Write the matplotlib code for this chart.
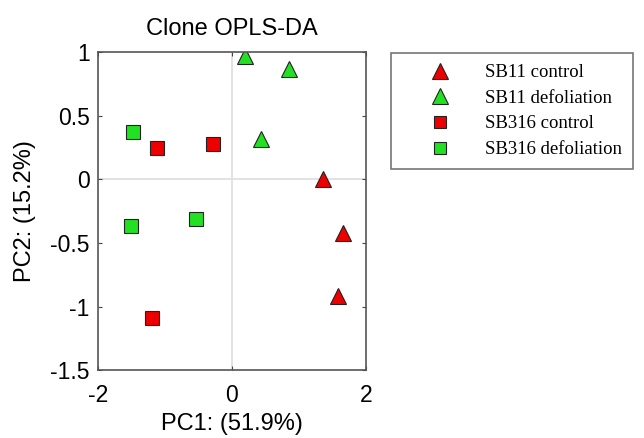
import matplotlib
matplotlib.use('Agg')
import matplotlib.pyplot as plt

# scores
sb11_control_x = [1.36, 1.66, 1.58]
sb11_control_y = [0.00, -0.42, -0.92]
sb11_defol_x = [0.19, 0.85, 0.43]
sb11_defol_y = [0.97, 0.87, 0.32]
sb316_control_x = [-1.12, -0.28, -1.19]
sb316_control_y = [0.245, 0.28, -1.09]
sb316_defol_x = [-1.47, -1.50, -0.53]
sb316_defol_y = [0.375, -0.365, -0.31]

x_ticks = [-2, 0, 2]
y_ticks = [-1.5, -1, -0.5, 0, 0.5, 1]
y_tick_labels = ['-1.5', '-1', '-0.5', '0', '0.5', '1']

red = '#ee0000'
green = '#22e022'

plt.rcParams['font.family'] = ['Liberation Sans', 'DejaVu Sans']
plt.rcParams['axes.unicode_minus'] = False

fig = plt.figure(figsize=(6.44, 4.38), dpi=100)
ax = fig.add_axes([0.152, 0.155, 0.416, 0.726])

ax.axhline(0, color='#dddddd', lw=1.2, zorder=0)
ax.axvline(0, color='#dddddd', lw=1.2, zorder=0)

ax.plot(sb11_control_x, sb11_control_y, '^', ms=12, mfc=red, mec='#222222', mew=0.8, label='SB11 control')
ax.plot(sb11_defol_x, sb11_defol_y, '^', ms=12, mfc=green, mec='#222222', mew=0.8, label='SB11 defoliation')
ax.plot(sb316_control_x, sb316_control_y, 's', ms=9.5, mfc=red, mec='#222222', mew=0.8, label='SB316 control')
ax.plot(sb316_defol_x, sb316_defol_y, 's', ms=9.5, mfc=green, mec='#222222', mew=0.8, label='SB316 defoliation')

ax.set_xlim(-2, 2)
ax.set_ylim(-1.5, 1)
ax.set_xticks(x_ticks)
ax.set_yticks(y_ticks)
ax.set_yticklabels(y_tick_labels)
ax.tick_params(direction='in', length=3, labelsize=16.5, top=True, right=True, color='#444444')
ax.tick_params(axis='x', pad=10)
ax.tick_params(axis='y', pad=6)
for s in ax.spines.values():
    s.set_color('#555555')
    s.set_linewidth(1.2)

ax.set_title('Clone OPLS-DA', fontsize=17, pad=12)
ax.set_xlabel('PC1: (51.9%)', fontsize=17, labelpad=4)
ax.set_ylabel('PC2: (15.2%)', fontsize=17, labelpad=10)

leg = fig.legend(loc='upper left', bbox_to_anchor=(391 / 644, 1 - 53 / 438),
                 prop={'family': 'Liberation Serif', 'size': 13.5},
                 fancybox=False, shadow=False, edgecolor='#555555',
                 borderpad=0.6, handletextpad=0.4, borderaxespad=0,
                 labelspacing=0.45, handlelength=4.0, markerscale=0.92)
leg.get_frame().set_linewidth(1.2)

fig.savefig('out.png', dpi=100)
